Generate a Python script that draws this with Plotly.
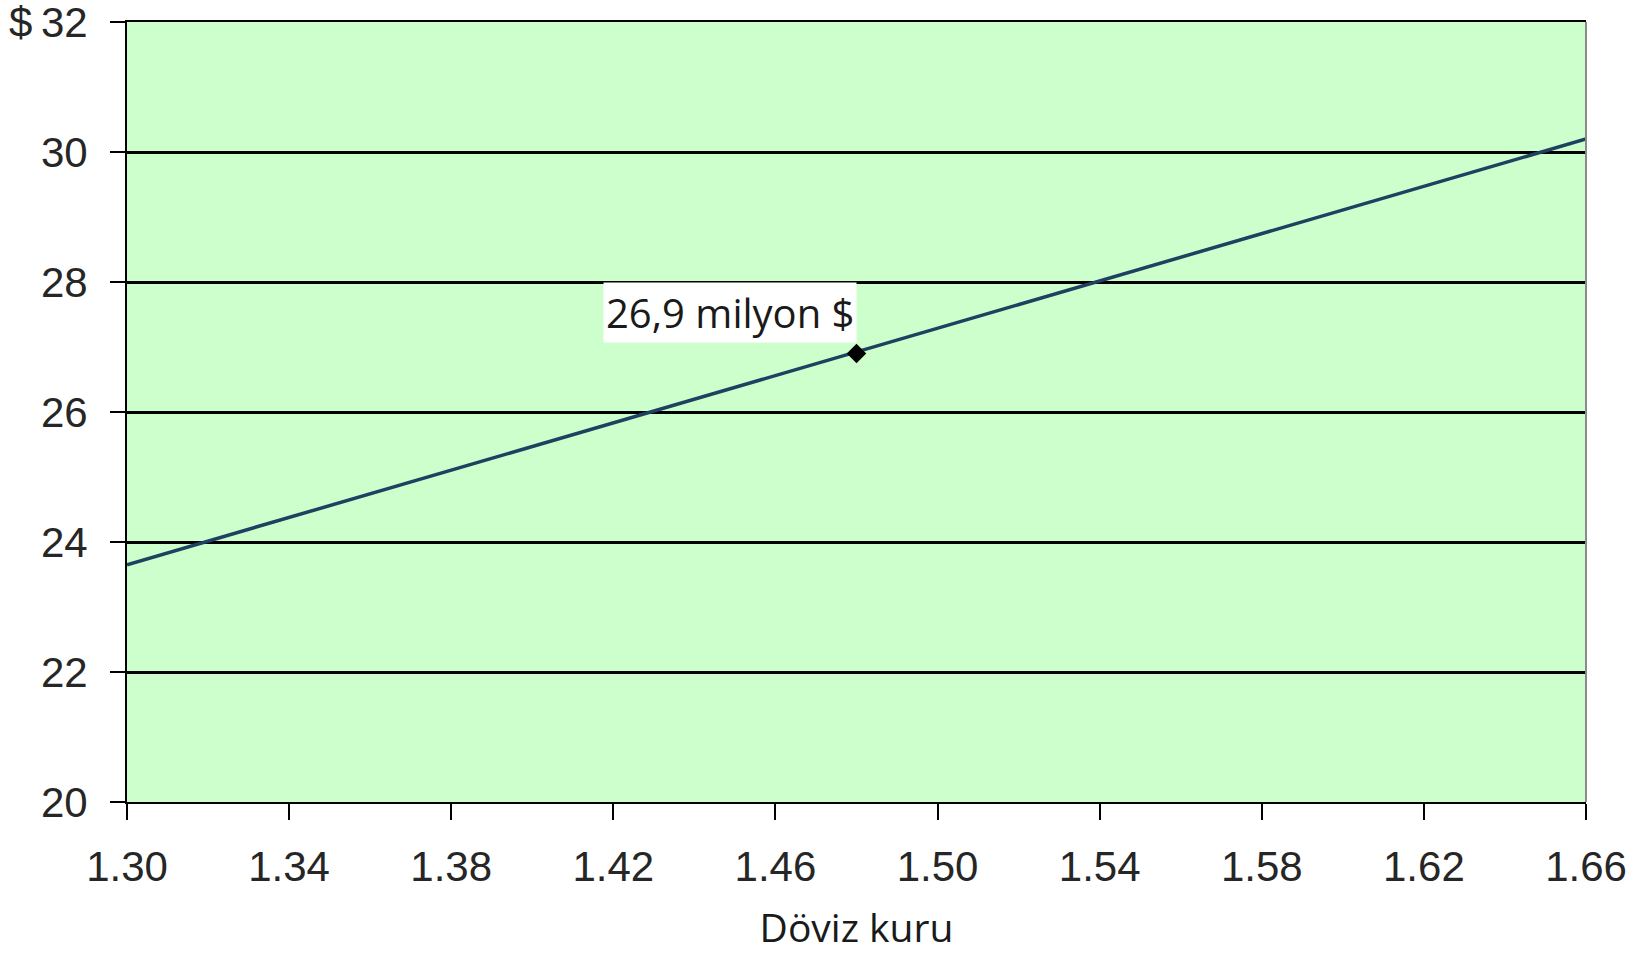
import plotly.graph_objects as go

# Data
line_x = [1.30, 1.66]
line_y = [23.65, 30.2]
point_x = [1.48]
point_y = [26.9]
point_label = "26,9 milyon $"
y_ticks = [20, 22, 24, 26, 28, 30, 32]
y_ticklabels = ["20", "22", "24", "26", "28", "30", "$\u200932"]
x_ticks = [1.30, 1.34, 1.38, 1.42, 1.46, 1.50, 1.54, 1.58, 1.62, 1.66]
x_title = "Döviz kuru"

fig = go.Figure()
fig.add_trace(go.Scatter(x=line_x, y=line_y, mode="lines",
                         line=dict(color="#1f4060", width=3.5), hoverinfo="skip"))
fig.add_trace(go.Scatter(x=point_x, y=point_y, mode="markers",
                         marker=dict(symbol="diamond", size=15, color="black"),
                         hoverinfo="skip"))

fig.add_annotation(x=point_x[0], y=point_y[0], text=point_label, showarrow=False,
                   xshift=-127, yshift=41, bgcolor="white",
                   font=dict(family="Open Sans", size=40, color="#1a1a1a"),
                   borderpad=2)

fig.add_shape(type="line", xref="paper", yref="paper", x0=1, x1=1, y0=0, y1=1,
              line=dict(color="#8a8a8a", width=2))

tickfont = dict(family="Liberation Sans, Arial", size=42, color="#262626")

fig.update_layout(
    width=1652, height=953,
    margin=dict(l=127, r=66, t=22, b=151),
    paper_bgcolor="white",
    plot_bgcolor="#ccffcc",
    showlegend=False,
    xaxis=dict(range=[1.30, 1.66], tickvals=x_ticks, tickformat=".2f",
               showgrid=False, zeroline=False, showline=True, linecolor="black",
               linewidth=2, mirror=True, ticks="outside", ticklen=16, tickwidth=2,
               tickcolor="black", tickfont=tickfont, automargin=False,
               ticklabelstandoff=11, ticklabeloverflow="allow",
               title=dict(text=x_title, standoff=28,
                          font=dict(family="Open Sans", size=39, color="#1a1a1a"))),
    yaxis=dict(range=[20, 32], tickvals=y_ticks, ticktext=y_ticklabels,
               showgrid=True, gridcolor="black", gridwidth=2.5, zeroline=False,
               showline=True, linecolor="black", linewidth=2, automargin=False,
               ticks="outside", ticklen=15, tickwidth=2, tickcolor="black",
               ticklabelstandoff=14, ticklabeloverflow="allow", tickfont=tickfont),
)

fig.write_html("out.html")
